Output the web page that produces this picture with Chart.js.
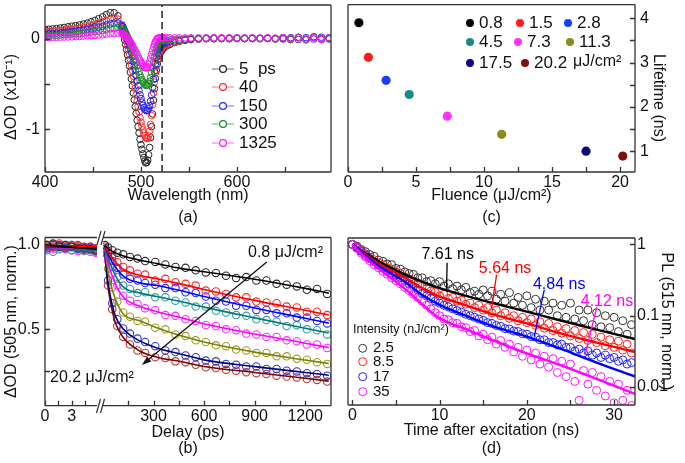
<!DOCTYPE html>
<html>
<head>
<meta charset="utf-8">
<title>Transient absorption and PL decay</title>
<script src="https://cdn.jsdelivr.net/npm/chart.js@4.4.1/dist/chart.umd.min.js"></script>
<style>
  html, body { margin: 0; padding: 0; background: #fff; }
  #fig { position: relative; width: 685px; height: 463px; overflow: hidden; }
  #fig canvas { position: absolute; }
</style>
</head>
<body>
<div id="fig">
  <canvas id="chartA" width="345" height="230" style="left:0;top:0"></canvas>
  <canvas id="chartC" width="345" height="230" style="left:340px;top:0"></canvas>
  <canvas id="chartB1" width="345" height="233" style="left:0;top:230px"></canvas>
  <canvas id="chartB2" width="345" height="233" style="left:0;top:230px"></canvas>
  <canvas id="chartD" width="345" height="233" style="left:340px;top:230px"></canvas>
</div>
<script>
/* ---------- (a) transient spectra ---------- */
const wavelengths = [400,404,408,412,416,420,424,428,432,436,440,444,448,452,456,460,464,468,472,476,
  480,481,482,483,484,485,486,487,488,489,490,491,492,493,494,495,496,497,498,499,500,501,502,503,504,
  505,506,507,508,509,510,511,512,513,514,515,516,517,518,519,520,521,522,523,524,
  527,530,535,540,546,552,560,568,576,584,592,600,608,616,624,632,640,648,656,664,672,680,688,696];
const spec5 = [0.1,0.103,0.107,0.11,0.117,0.123,0.13,0.137,0.143,0.15,0.16,0.17,0.185,0.2,0.22,0.24,0.265,0.285,0.285,0.25,
  0.13,0.085,0.04,-0.015,-0.065,-0.12,-0.18,-0.24,-0.3,-0.37,-0.445,-0.52,-0.6,-0.675,-0.75,-0.825,-0.9,-0.97,-1.04,-1.11,-1.17,-1.22,-1.27,-1.31,-1.35,
  -1.37,-1.365,-1.34,-1.28,-1.2,-1.09,-0.97,-0.83,-0.68,-0.55,-0.44,-0.35,-0.28,-0.23,-0.19,-0.16,-0.14,-0.125,-0.11,-0.1,
  -0.08,-0.065,-0.045,-0.03,-0.02,-0.012,-0.005,0,0,0.005,0,0.005,0,0.005,0,0.005,0,0.01,-0.01,0.015,-0.01,0.02,-0.005,0.01];
const spec40 = [0.075,0.078,0.082,0.085,0.088,0.094,0.1,0.103,0.108,0.115,0.122,0.13,0.14,0.153,0.17,0.185,0.2,0.215,0.225,0.215,
  0.155,0.125,0.09,0.05,0.01,-0.03,-0.075,-0.12,-0.17,-0.23,-0.29,-0.35,-0.415,-0.48,-0.55,-0.62,-0.685,-0.75,-0.81,-0.87,-0.92,-0.965,-1.005,-1.04,-1.07,
  -1.09,-1.1,-1.1,-1.07,-1.02,-0.945,-0.85,-0.73,-0.6,-0.48,-0.38,-0.3,-0.24,-0.195,-0.16,-0.135,-0.12,-0.105,-0.09,-0.08,
  -0.068,-0.055,-0.035,-0.025,-0.015,-0.01,-0.005,0,0,0,0.005,0,0.005,0,0,0.005,-0.005,0.005,-0.01,0.01,-0.015,0.015,-0.01,0.005];
const spec150 = [0.05,0.053,0.057,0.06,0.063,0.067,0.07,0.073,0.078,0.085,0.092,0.1,0.105,0.115,0.125,0.135,0.15,0.16,0.17,0.17,
  0.145,0.13,0.11,0.085,0.06,0.03,-0.002,-0.035,-0.07,-0.11,-0.155,-0.2,-0.25,-0.3,-0.35,-0.405,-0.465,-0.52,-0.57,-0.62,-0.66,-0.7,-0.735,-0.76,-0.78,
  -0.79,-0.795,-0.79,-0.77,-0.74,-0.69,-0.62,-0.54,-0.45,-0.36,-0.28,-0.21,-0.16,-0.125,-0.1,-0.08,-0.07,-0.06,-0.055,-0.05,
  -0.042,-0.035,-0.025,-0.018,-0.01,-0.005,0,0,0.005,0,0,0.005,0,0,0.005,0,0,-0.005,0.01,-0.01,0.01,-0.005,0.015,-0.005];
const spec300 = [0.03,0.032,0.034,0.036,0.039,0.042,0.045,0.048,0.052,0.055,0.06,0.065,0.07,0.077,0.083,0.09,0.1,0.11,0.115,0.12,
  0.11,0.1,0.09,0.075,0.058,0.04,0.018,-0.005,-0.03,-0.06,-0.09,-0.12,-0.153,-0.187,-0.22,-0.257,-0.293,-0.33,-0.365,-0.4,-0.43,-0.455,-0.475,-0.49,-0.505,
  -0.515,-0.515,-0.51,-0.495,-0.47,-0.43,-0.38,-0.32,-0.26,-0.2,-0.15,-0.11,-0.08,-0.06,-0.045,-0.036,-0.03,-0.027,-0.025,-0.023,
  -0.02,-0.015,-0.01,-0.008,-0.005,0,0,0.005,0,0,0.005,0,0,0.005,0,0.005,-0.005,0.01,-0.005,0.01,-0.01,0.015,0,0.005];
const spec1325 = [0.01,0.011,0.013,0.014,0.015,0.017,0.018,0.019,0.022,0.024,0.027,0.03,0.032,0.035,0.039,0.042,0.047,0.052,0.057,0.06,
  0.056,0.052,0.045,0.036,0.026,0.015,0.003,-0.01,-0.025,-0.04,-0.057,-0.075,-0.095,-0.115,-0.135,-0.157,-0.178,-0.2,-0.22,-0.24,-0.26,-0.276,-0.292,-0.305,-0.317,
  -0.325,-0.322,-0.31,-0.285,-0.255,-0.215,-0.175,-0.135,-0.095,-0.062,-0.035,-0.015,0,0.006,0.008,0.008,0.008,0.008,0.008,0.008,
  0.008,0.008,0.008,0.008,0.008,0.008,0.008,0.008,0.008,0.008,0.008,0.008,0.008,0.008,0.005,0.008,0.005,0.01,0,0.01,-0.005,0.01,-0.01,0.005];
const delayLabels = ['5  ps', '40', '150', '300', '1325'];
const probeWavelength = 522;
const aTicksX = [400, 450, 500, 550, 600, 650];
const aTicksY = [-1, -0.5, 0];

/* ---------- (b) normalised kinetics at 505 nm ---------- */
const earlyT = [0.2, 0.9, 1.6, 2.3, 3.0, 3.7, 4.4, 5.1, 5.7];
const earlyFitT = [0, 5.85];
const lateT = [12,30,55,85,120,160,205,250,310,370,430,490,550,610,670,730,790,850,910,970,1030,1090,1150,1210,1270,1330];
const lateFitT = [10,24,43,73,122,221,320,459,600,900,1200,1340];
const earlyPts = [
  [1.0,1.01,0.99,1.0,0.99,0.985,0.98,0.975,0.97],
  [1.0,0.99,1.01,0.99,1.0,0.995,0.985,0.99,0.98],
  [0.98,1.0,0.99,0.985,1.0,0.98,0.99,0.985,0.975],
  [0.97,0.96,0.975,0.99,0.97,0.98,0.965,0.97,0.96],
  [0.985,0.975,0.99,0.975,0.97,0.965,0.98,0.96,0.955],
  [0.995,0.99,0.98,0.99,0.985,0.975,0.98,0.985,0.97],
  [0.99,0.985,1.0,0.98,0.99,0.975,0.97,0.98,0.965],
  [1.0,1.005,0.995,1.0,0.99,1.0,0.985,0.99,0.98]
];
const earlyFit = [[1.0,0.975],[0.995,0.99],[0.99,0.985],[0.975,0.97],[0.985,0.965],[0.99,0.98],[0.995,0.975],[1.0,0.99]];
const latePts = [
  [1.0,0.985,0.97,0.955,0.945,0.93,0.92,0.905,0.9,0.885,0.87,0.865,0.85,0.838,0.835,0.818,0.805,0.81,0.79,0.79,0.77,0.765,0.755,0.735,0.74,0.71],
  [0.99,0.965,0.935,0.9,0.87,0.85,0.83,0.825,0.79,0.8,0.78,0.77,0.76,0.73,0.725,0.71,0.69,0.69,0.665,0.66,0.655,0.635,0.63,0.605,0.605,0.585],
  [0.98,0.95,0.905,0.865,0.825,0.8,0.79,0.775,0.765,0.745,0.745,0.72,0.715,0.695,0.67,0.665,0.64,0.64,0.615,0.615,0.595,0.595,0.57,0.57,0.55,0.535],
  [0.975,0.93,0.87,0.81,0.76,0.74,0.715,0.72,0.69,0.69,0.67,0.66,0.635,0.635,0.61,0.6,0.585,0.58,0.56,0.555,0.545,0.52,0.525,0.5,0.495,0.47],
  [0.97,0.905,0.83,0.76,0.7,0.67,0.65,0.625,0.615,0.585,0.58,0.56,0.55,0.525,0.52,0.5,0.495,0.475,0.47,0.455,0.455,0.435,0.43,0.41,0.41,0.39],
  [0.965,0.86,0.75,0.665,0.6,0.575,0.55,0.545,0.51,0.5,0.47,0.46,0.435,0.425,0.405,0.4,0.38,0.375,0.36,0.36,0.34,0.34,0.325,0.32,0.305,0.295],
  [0.96,0.79,0.655,0.56,0.505,0.475,0.445,0.425,0.4,0.375,0.365,0.345,0.335,0.315,0.31,0.295,0.29,0.28,0.28,0.265,0.265,0.255,0.25,0.24,0.235,0.225],
  [0.955,0.76,0.62,0.52,0.455,0.41,0.375,0.36,0.335,0.33,0.31,0.305,0.29,0.275,0.27,0.26,0.255,0.245,0.24,0.235,0.225,0.22,0.215,0.205,0.2,0.19]
];
const lateFit = [
  [0.995,0.985,0.97,0.955,0.935,0.91,0.89,0.862,0.842,0.797,0.743,0.715],
  [0.997,0.97,0.94,0.9,0.855,0.82,0.8,0.77,0.737,0.672,0.613,0.585],
  [0.995,0.96,0.92,0.87,0.815,0.775,0.76,0.73,0.695,0.627,0.566,0.537],
  [0.995,0.94,0.89,0.82,0.75,0.715,0.695,0.665,0.632,0.568,0.506,0.478],
  [0.99,0.92,0.85,0.77,0.69,0.635,0.605,0.57,0.533,0.472,0.418,0.392],
  [0.99,0.88,0.78,0.68,0.59,0.55,0.51,0.463,0.425,0.365,0.318,0.297],
  [0.99,0.82,0.7,0.58,0.5,0.43,0.39,0.354,0.319,0.279,0.244,0.228],
  [0.99,0.8,0.67,0.54,0.45,0.37,0.335,0.309,0.28,0.244,0.21,0.193]
];
const bTicksEarly = [0, 1.5, 3, 4.5];
const bTicksLate = [150, 300, 450, 600, 750, 900, 1050, 1200];
const bTicksY = [0.25, 0.5, 0.75, 1.0];

/* ---------- (c) lifetime vs fluence ---------- */
const fluence = [0.8, 1.5, 2.8, 4.5, 7.3, 11.3, 17.5, 20.2];
const lifetime = [3.9, 3.12, 2.6, 2.28, 1.79, 1.38, 1.0, 0.89];
const cTicksX = [0, 2.5, 5, 7.5, 10, 12.5, 15, 17.5, 20];
const cTicksY = [1, 1.5, 2, 2.5, 3, 3.5, 4];

/* ---------- (d) PL decays ---------- */
const plT = [0,0.5,1,1.5,2,2.5,3,3.5,4,4.5,5,5.5,6,6.5,7,7.5,8,8.5,9,9.5,10,10.5,11,11.5,12,12.5,13,13.5,14,14.5,15,15.5,
  16,16.5,17,17.5,18,18.5,19,19.5,20,20.5,21,21.5,22,22.5,23,23.5,24,24.5,25,25.5,26,26.5,27,27.5,28,28.5,29,29.5,30,30.5,31,31.5,32];
const pl25 = [1.0,0.95,0.85,0.79,0.72,0.68,0.6,0.58,0.53,0.52,0.46,0.45,0.41,0.39,0.38,0.34,0.34,0.3,0.31,0.28,0.3,0.26,0.28,0.24,0.26,0.23,0.25,0.21,0.22,0.2,0.23,0.19,
  0.22,0.17,0.2,0.16,0.21,0.15,0.18,0.14,0.19,0.13,0.17,0.12,0.16,0.12,0.15,0.1,0.14,0.095,0.15,0.09,0.12,0.085,0.12,0.075,0.11,0.07,0.1,0.068,0.095,0.06,0.085,0.055,0.075];
const pl85 = [1.0,0.92,0.82,0.74,0.66,0.61,0.55,0.52,0.47,0.45,0.41,0.39,0.35,0.33,0.3,0.28,0.26,0.24,0.22,0.215,0.19,0.2,0.175,0.18,0.16,0.165,0.145,0.15,0.13,0.14,0.12,0.13,
  0.11,0.12,0.1,0.11,0.092,0.1,0.085,0.095,0.08,0.09,0.073,0.082,0.067,0.078,0.062,0.07,0.057,0.066,0.052,0.062,0.048,0.058,0.045,0.055,0.042,0.05,0.038,0.046,0.036,0.044,0.033,0.04,0.03];
const pl17 = [1.0,0.9,0.8,0.7,0.63,0.57,0.51,0.47,0.43,0.4,0.37,0.34,0.31,0.28,0.255,0.23,0.205,0.19,0.175,0.16,0.15,0.14,0.133,0.125,0.118,0.112,0.105,0.1,0.095,0.09,0.086,0.08,
  0.078,0.073,0.071,0.066,0.065,0.061,0.06,0.056,0.055,0.051,0.05,0.046,0.046,0.042,0.042,0.039,0.04,0.036,0.036,0.032,0.034,0.03,0.032,0.028,0.03,0.026,0.028,0.025,0.026,0.023,0.024,0.021,0.022];
const pl35 = [1.0,0.88,0.76,0.67,0.59,0.52,0.47,0.42,0.38,0.34,0.31,0.28,0.25,0.225,0.2,0.18,0.16,0.14,0.125,0.11,0.1,0.09,0.088,0.08,0.078,0.07,0.068,0.06,0.062,0.052,0.055,0.046,
  0.05,0.04,0.045,0.036,0.04,0.031,0.036,0.027,0.033,0.024,0.03,0.021,0.027,0.019,0.025,0.016,0.023,0.014,0.021,0.012,0.0065,0.017,0.011,0.016,0.009,0.014,0.0075,0.012,0.006,0.011,0.0065,0.009,0.0055];
const plFitT = [0,1,2,3,4,6,8,10,13,16,20,24,28,32.4];
const fit25 = [1.0,0.82,0.69,0.58,0.5,0.38,0.3,0.243,0.19,0.152,0.114,0.085,0.064,0.047];
const fit85 = [1.0,0.8,0.65,0.54,0.46,0.34,0.245,0.185,0.14,0.105,0.078,0.056,0.042,0.031];
const fit17 = [1.0,0.78,0.62,0.5,0.42,0.3,0.195,0.142,0.1,0.072,0.051,0.034,0.022,0.014];
const fit35 = [1.0,0.75,0.58,0.46,0.37,0.24,0.145,0.092,0.065,0.046,0.0297,0.02,0.013,0.008];
const intensityLabels = ['2.5', '8.5', '17', '35'];
const lifetimeLabels = ['7.61 ns', '5.64 ns', '4.84 ns', '4.12 ns'];
const dTicksX = [0, 5, 10, 15, 20, 25, 30];
const dTicksY = [0.01, 0.1, 1];

/* ---------- shared look ---------- */
const FONT = "'Liberation Sans', Arial, Helvetica, sans-serif";
Chart.defaults.font.family = FONT;
Chart.defaults.font.size = 16;
Chart.defaults.color = '#111';
Chart.defaults.animation = false;
Chart.defaults.events = [];
Chart.defaults.plugins.legend.display = false;
Chart.defaults.plugins.tooltip.enabled = false;

const pts = (xs, ys) => xs.map((x, i) => ({x, y: ys[i]}));

function axis(o) {
  const a = {
    type: o.type || 'linear', position: o.pos, min: o.min, max: o.max, bounds: 'data', display: o.display !== false,
    grid: {display: false, drawTicks: false}, border: {display: false},
    ticks: {autoSkip: false, maxRotation: 0, minRotation: 0, padding: o.pad ?? 1,
            color: '#111', font: {size: 16}, callback: o.label},
    title: o.title ? Object.assign({display: true, color: '#111'}, o.title) : {display: false}
  };
  if (o.at) a.afterBuildTicks = s => { s.ticks = o.at.map(v => ({value: v})); };
  if (o.display !== false) a.afterFit = s => {
    if (o.pos === 'bottom') s.height = o.size; else s.width = o.size;
    s.paddingLeft = s.paddingRight = s.paddingTop = s.paddingBottom = 0;
  };
  return a;
}

// box round the plot area plus inward tick marks
function frame(sides) {
  return {
    id: 'frame',
    afterDraw(chart) {
      const {ctx, chartArea: a} = chart;
      ctx.save();
      ctx.strokeStyle = '#333'; ctx.lineWidth = 1.3;
      ctx.beginPath();
      if (sides.includes('t')) { ctx.moveTo(a.left, a.top); ctx.lineTo(a.right, a.top); }
      if (sides.includes('b')) { ctx.moveTo(a.left, a.bottom); ctx.lineTo(a.right, a.bottom); }
      if (sides.includes('l')) { ctx.moveTo(a.left, a.top); ctx.lineTo(a.left, a.bottom); }
      if (sides.includes('r')) { ctx.moveTo(a.right, a.top); ctx.lineTo(a.right, a.bottom); }
      Object.values(chart.scales).forEach(sc => {
        if (!sc.options.display) return;
        sc.ticks.forEach(t => {
          const p = Math.round(sc.getPixelForValue(t.value)) + 0.5;
          if (sc.position === 'bottom') { ctx.moveTo(p, a.bottom); ctx.lineTo(p, a.bottom - 5); }
          else if (sc.position === 'left') { ctx.moveTo(a.left, p); ctx.lineTo(a.left + 5, p); }
          else { ctx.moveTo(a.right, p); ctx.lineTo(a.right - 5, p); }
        });
      });
      ctx.stroke();
      ctx.restore();
    }
  };
}

function text(ctx, s, x, y, size, color, align, rot) {
  ctx.save();
  ctx.font = size + 'px ' + FONT;
  ctx.fillStyle = color || '#111';
  ctx.textAlign = align || 'left';
  ctx.textBaseline = 'middle';
  ctx.translate(x, y);
  if (rot) ctx.rotate(rot);
  ctx.fillText(s, 0, 0);
  ctx.restore();
}

/* ---------- (a) ---------- */
const specColors = ['#222222', '#ff2a2a', '#2323ff', '#1c8c1c', '#ff14ff'];
const specSeries = [spec5, spec40, spec150, spec300, spec1325];

new Chart(document.getElementById('chartA'), {
  type: 'scatter',
  data: {
    datasets: specSeries.map((ys, i) => ({
      label: delayLabels[i], data: pts(wavelengths, ys), showLine: false,
      borderColor: specColors[i], backgroundColor: 'rgba(0,0,0,0)',
      pointRadius: 3.3, pointBorderWidth: 1, order: -i
    })).concat([{
      data: [{x: probeWavelength, y: -1.47}, {x: probeWavelength, y: 0.37}], showLine: true,
      borderColor: '#222', borderWidth: 1.5, borderDash: [7, 4], pointRadius: 0, order: -10
    }])
  },
  options: {
    responsive: false, devicePixelRatio: 1,
    layout: {padding: {left: 0, right: 14, top: 2, bottom: 0}},
    scales: {
      x: axis({pos: 'bottom', min: 400, max: 698, at: aTicksX, size: 58,
               label: v => v % 100 === 0 ? String(v) : '',
               title: {text: ['Wavelength (nm)', '(a)'], font: {size: 16, lineHeight: 1.33}, padding: {top: 0, bottom: 2}}}),
      y: axis({pos: 'left', min: -1.47, max: 0.37, at: aTicksY, size: 45, pad: 5,
               label: v => Number.isInteger(v) ? String(v) : ''})
    }
  },
  plugins: [frame('ltrb'), {
    id: 'extrasA',
    afterDraw(chart) {
      const ctx = chart.ctx;
      const rows = [69, 87, 106, 124, 143];
      chart.data.datasets.slice(0, 5).forEach((ds, i) => {
        ctx.save();
        ctx.strokeStyle = ds.borderColor; ctx.globalAlpha = 0.55; ctx.lineWidth = 1.2;
        ctx.beginPath(); ctx.moveTo(212, rows[i]); ctx.lineTo(234, rows[i]); ctx.stroke();
        ctx.globalAlpha = 1; ctx.fillStyle = '#fff';
        ctx.beginPath(); ctx.arc(223, rows[i], 3.4, 0, Math.PI * 2); ctx.fill(); ctx.stroke();
        ctx.restore();
        text(ctx, ds.label, 239, rows[i], 17, '#111');
      });
      text(ctx, 'ΔOD (x10⁻¹)', 12, 97, 16, '#111', 'center', -Math.PI / 2);
    }
  }]
});

/* ---------- (c) ---------- */
const fluColors = ['#000000', '#ff1a1a', '#1a3cff', '#1a8a8a', '#ff33ff', '#8a8a1a', '#0a0a80', '#801010'];

new Chart(document.getElementById('chartC'), {
  type: 'scatter',
  data: {
    datasets: [{
      data: pts(fluence, lifetime), showLine: false,
      pointBackgroundColor: fluColors, pointBorderColor: fluColors, pointRadius: 4.6, pointBorderWidth: 0
    }]
  },
  options: {
    responsive: false, devicePixelRatio: 1,
    layout: {padding: {left: 8, right: 0, top: 2, bottom: 0}},
    scales: {
      x: axis({pos: 'bottom', min: 0, max: 21.1, at: cTicksX, size: 58,
               label: v => v % 5 === 0 ? String(v) : '',
               title: {text: ['Fluence (μJ/cm²)', '(c)'], font: {size: 16, lineHeight: 1.33}, padding: {top: 0, bottom: 2}}}),
      y: axis({pos: 'right', min: 0.53, max: 4.31, at: cTicksY, size: 50, pad: 5,
               label: v => Number.isInteger(v) ? String(v) : ''})
    }
  },
  plugins: [frame('ltrb'), {
    id: 'extrasC',
    afterDraw(chart) {
      const ctx = chart.ctx;
      const slots = [[130, 23], [180, 23], [228, 23], [130, 42], [178, 42], [230, 42], [130, 63], [185, 63]];
      fluence.forEach((f, i) => {
        const [x, y] = slots[i];
        ctx.save(); ctx.fillStyle = fluColors[i];
        ctx.beginPath(); ctx.arc(x, y, 4, 0, Math.PI * 2); ctx.fill(); ctx.restore();
        text(ctx, String(f), x + 9, y, 17, '#111');
      });
      text(ctx, 'μJ/cm²', 233, 62, 16, '#111');
      text(ctx, 'Lifetime (ns)', 318, 98, 16, '#111', 'center', Math.PI / 2);
    }
  }]
});

/* ---------- (b) ---------- */
const kinColors = ['#2b2b2b', '#ff2626', '#2a2aff', '#3d9c9c', '#ff2bff', '#9c9c24', '#3535c8', '#b33a3a'];
const kinLineColors = ['#000000', '#ff0000', '#0000ff', '#007b7b', '#ff00ff', '#7f7f00', '#00007f', '#7f0000'];
const yB = {min: 0.047, max: 1.045};

function kinSets(tPts, rowsPts, tFit, rowsFit) {
  const sets = [];
  rowsPts.forEach((ys, i) => sets.push({
    data: pts(tPts, ys), showLine: false, borderColor: kinColors[i], backgroundColor: 'rgba(0,0,0,0)',
    pointRadius: 3.7, pointBorderWidth: 1.1, order: 10 + i
  }));
  rowsFit.forEach((ys, i) => sets.push({
    data: pts(tFit, ys), showLine: true, borderColor: kinLineColors[i], borderWidth: 1.6,
    pointRadius: 0, cubicInterpolationMode: 'monotone', order: i
  }));
  return sets;
}

new Chart(document.getElementById('chartB1'), {
  type: 'scatter',
  data: {datasets: kinSets(earlyT, earlyPts, earlyFitT, earlyFit)},
  options: {
    responsive: false, devicePixelRatio: 1,
    layout: {padding: {left: 0, right: 248, top: 7.5, bottom: 0}},
    scales: {
      x: axis({pos: 'bottom', min: 0, max: 5.85, at: bTicksEarly, size: 57.3,
               label: v => (v === 0 || v === 3) ? String(v) : ''}),
      y: axis({pos: 'left', min: yB.min, max: yB.max, at: bTicksY, size: 45, pad: 5,
               label: v => (v === 0.5 || v === 1) ? v.toFixed(1) : '',
               title: {text: 'ΔOD (505 nm, norm.)', font: {size: 16}, padding: {top: 2.4, bottom: 0}}})
    }
  },
  plugins: [frame('ltb')]
});

const arrowB = {from: [972, 0.90], to: [231, 0.289]};

new Chart(document.getElementById('chartB2'), {
  type: 'scatter',
  data: {datasets: kinSets(lateT, latePts, lateFitT, lateFit)},
  options: {
    responsive: false, devicePixelRatio: 1,
    layout: {padding: {left: 103, right: 14, top: 7.5, bottom: 0}},
    scales: {
      x: axis({pos: 'bottom', min: 0, max: 1353, at: bTicksLate, size: 57.3,
               label: v => v % 300 === 0 ? String(v) : ''}),
      y: axis({pos: 'left', min: yB.min, max: yB.max, display: false})
    }
  },
  plugins: [frame('trb'), {
    id: 'extrasB',
    afterDraw(chart) {
      const {ctx, scales: {x, y}} = chart;
      const x1 = x.getPixelForValue(arrowB.from[0]), y1 = y.getPixelForValue(arrowB.from[1]);
      const x2 = x.getPixelForValue(arrowB.to[0]), y2 = y.getPixelForValue(arrowB.to[1]);
      const ang = Math.atan2(y2 - y1, x2 - x1);
      ctx.save();
      ctx.strokeStyle = '#111'; ctx.fillStyle = '#111'; ctx.lineWidth = 1.3;
      ctx.beginPath(); ctx.moveTo(x1, y1); ctx.lineTo(x2 - 6 * Math.cos(ang), y2 - 6 * Math.sin(ang)); ctx.stroke();
      ctx.beginPath(); ctx.moveTo(x2, y2);
      ctx.lineTo(x2 - 10 * Math.cos(ang - 0.33), y2 - 10 * Math.sin(ang - 0.33));
      ctx.lineTo(x2 - 10 * Math.cos(ang + 0.33), y2 - 10 * Math.sin(ang + 0.33));
      ctx.closePath(); ctx.fill();
      // axis break marks
      ctx.strokeStyle = '#333'; ctx.lineWidth = 1.2;
      ctx.beginPath();
      [[96.5, 183, 100.5, 169], [100.5, 183, 104.5, 169], [97, 15, 101, 1], [101, 15, 105, 1]].forEach(s => {
        ctx.moveTo(s[0], s[1]); ctx.lineTo(s[2], s[3]);
      });
      ctx.stroke();
      ctx.restore();
      text(ctx, '0.8 μJ/cm²', 323, 23, 16, '#111', 'right');
      text(ctx, '20.2 μJ/cm²', 50, 148, 16, '#111', 'left');
      text(ctx, 'Delay (ps)', 188, 203, 16, '#111', 'center');
      text(ctx, '(b)', 188, 219, 16, '#111', 'center');
    }
  }]
});

/* ---------- (d) ---------- */
const plColors = ['#333333', '#ff2020', '#2020ff', '#ff10ff'];
const plLineColors = ['#000000', '#ff0000', '#0000ff', '#ff00ff'];
const plSeries = [pl25, pl85, pl17, pl35];
const plFits = [fit25, fit85, fit17, fit35];
// label anchor (text left/middle) and leader line, in data units
const lifetimeNotes = [
  {t: 7.92, v: 0.713, from: [10.86, 0.555], to: [10.79, 0.2175]},
  {t: 14.5, v: 0.453, from: [16.53, 0.373], to: [15.96, 0.127]},
  {t: 20.7, v: 0.27, from: [22.0, 0.23], to: [20.85, 0.0508]},
  {t: 26.18, v: 0.157, from: [28.01, 0.1315], to: [26.67, 0.0281]}
];

new Chart(document.getElementById('chartD'), {
  type: 'scatter',
  data: {
    datasets: plSeries.map((ys, i) => ({
      data: pts(plT, ys), showLine: false, borderColor: plColors[i], backgroundColor: 'rgba(0,0,0,0)',
      pointRadius: 4, pointBorderWidth: 1, order: 20 - i
    })).concat(plFits.map((ys, i) => ({
      data: pts(plFitT, ys), showLine: true, borderColor: plLineColors[i], borderWidth: 2.4,
      pointRadius: 0, cubicInterpolationMode: 'monotone', order: 5 - i
    })))
  },
  options: {
    responsive: false, devicePixelRatio: 1,
    layout: {padding: {left: 8, right: 0, top: 8, bottom: 0}},
    scales: {
      x: axis({pos: 'bottom', min: -0.5, max: 32.4, at: dTicksX, size: 58,
               label: v => v % 10 === 0 ? String(v) : '',
               title: {text: ['Time after excitation (ns)', '(d)'], font: {size: 16, lineHeight: 1.15}, padding: {top: 0, bottom: 5}}}),
      y: axis({type: 'logarithmic', pos: 'right', min: 0.0056, max: 1.23, at: dTicksY, size: 50, pad: 2,
               label: v => v === 1 ? '1' : v === 0.1 ? '0.1' : v === 0.01 ? '0.01' : '',
               title: {text: 'PL (515 nm, norm.)', font: {size: 16}, padding: {top: 8.7, bottom: 0}}})
    }
  },
  plugins: [frame('ltrb'), {
    id: 'extrasD',
    afterDraw(chart) {
      const {ctx, scales: {x, y}} = chart;
      lifetimeNotes.forEach((n, i) => {
        ctx.save();
        ctx.strokeStyle = plLineColors[i]; ctx.lineWidth = 1.3;
        ctx.beginPath();
        ctx.moveTo(x.getPixelForValue(n.from[0]), y.getPixelForValue(n.from[1]));
        ctx.lineTo(x.getPixelForValue(n.to[0]), y.getPixelForValue(n.to[1]));
        ctx.stroke(); ctx.restore();
        text(ctx, lifetimeLabels[i], x.getPixelForValue(n.t), y.getPixelForValue(n.v), 16, plLineColors[i]);
      });
      text(ctx, 'Intensity (nJ/cm²)', 13, 100, 12.5, '#111');
      const rows = [118.3, 131.7, 146.7, 161.7];
      intensityLabels.forEach((s, i) => {
        ctx.save(); ctx.strokeStyle = plColors[i]; ctx.lineWidth = 1;
        ctx.beginPath(); ctx.arc(22.7, rows[i], 4, 0, Math.PI * 2); ctx.stroke(); ctx.restore();
        text(ctx, s, 33, rows[i], 15, '#111');
      });
    }
  }]
});
</script>
</body>
</html>
